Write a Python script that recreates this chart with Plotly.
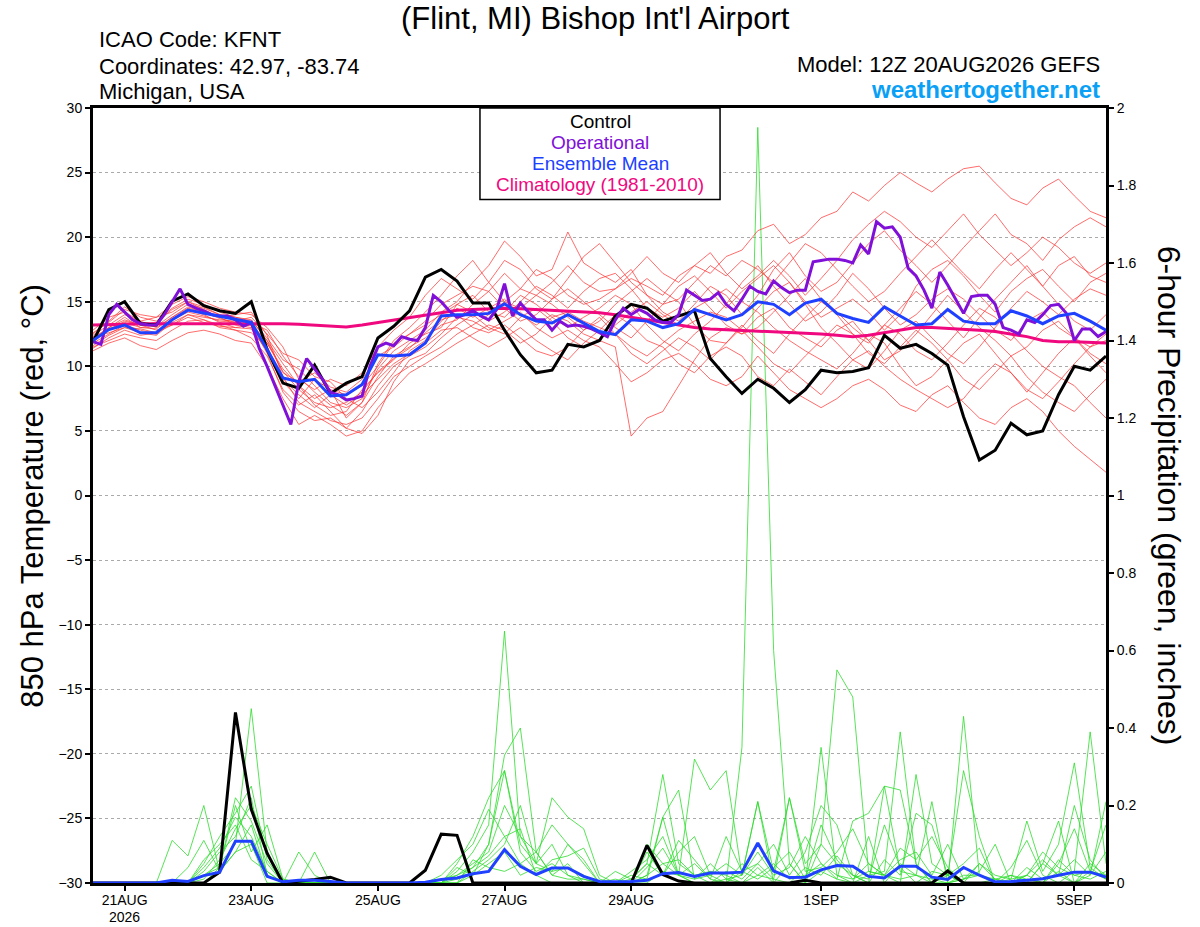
import pandas as pd
import plotly.graph_objects as go

# 6-hourly GEFS steps from 12Z 20AUG2026 out to 384 h
START = pd.Timestamp("2026-08-20 12:00")
times = pd.date_range(START, periods=65, freq="6h")

# 850 hPa temperature (C)
control_t = [11.9, 14.4, 15.0, 13.3, 13.2, 15.05, 15.6, 14.7, 14.3, 14.1, 15.0,
             11.3, 8.7, 8.3, 10.1, 7.9, 8.7, 9.2, 12.2, 13.1, 14.3,
             16.9, 17.5, 16.6, 14.9, 14.9, 12.8, 10.9, 9.5, 9.7, 11.7, 11.5,
             12.0, 13.9, 14.8, 14.5, 13.5, 13.9, 14.3, 10.6, 9.2, 7.9, 9.0,
             8.3, 7.2, 8.2, 9.7, 9.5, 9.6, 9.9, 12.4, 11.4, 11.7, 11.0,
             10.1, 6.1, 2.75, 3.5, 5.6, 4.7, 5.0, 7.8, 10.0, 9.7, 10.8]

mean_t = [12.0, 12.85, 13.2, 12.6, 12.6, 13.6, 14.35, 14.1, 13.9, 13.6, 13.4,
          11.3, 9.1, 8.8, 9.0, 7.7, 7.8, 8.6, 10.9, 10.8, 10.9,
          11.8, 13.9, 14.0, 14.0, 14.1, 14.85, 14.0, 13.5, 13.35, 14.0, 13.35,
          12.7, 12.45, 13.6, 13.5, 13.0, 13.3, 14.4, 14.0, 13.6, 14.0, 15.0,
          14.8, 14.0, 14.9, 15.2, 14.1, 13.7, 13.4, 14.6, 13.9, 13.2, 13.3,
          14.4, 13.5, 13.3, 13.3, 14.3, 13.9, 13.3, 13.9, 14.1, 13.5, 12.8]

clim_t = [13.2, 13.2, 13.25, 13.3, 13.3, 13.3, 13.35, 13.35, 13.35, 13.3, 13.3,
          13.3, 13.3, 13.25, 13.2, 13.1, 13.05, 13.2, 13.4, 13.6, 13.8,
          14.0, 14.2, 14.35, 14.4, 14.45, 14.5, 14.45, 14.4, 14.35, 14.3, 14.25,
          14.15, 14.0, 13.8, 13.6, 13.35, 13.15, 13.0, 12.9, 12.85, 12.8, 12.75,
          12.7, 12.65, 12.6, 12.5, 12.4, 12.3, 12.4, 12.6, 12.8, 13.0, 13.0,
          12.95, 12.9, 12.8, 12.7, 12.5, 12.3, 12.0, 11.9, 11.9, 11.85, 11.8]

# operational run is 3-hourly
oper_hours = list(range(0, 385, 3))
oper_t = [11.9, 11.7, 14.0, 14.8, 14.2, 13.6, 13.3, 13.2, 13.2, 14.0, 15.0, 16.0,
          14.8, 14.5, 14.3, 14.0, 13.9, 13.9, 13.6, 13.1, 13.4, 11.4, 10.0, 8.5,
          7.0, 5.5, 8.8, 10.6, 9.8, 9.0, 8.0, 7.8, 7.4, 7.5, 7.7, 10.0,
          11.5, 11.8, 11.6, 12.3, 12.1, 12.0, 13.0, 15.5, 15.0, 14.3, 13.8, 14.0,
          14.3, 13.9, 13.6, 14.4, 16.4, 13.9, 14.9, 14.2, 13.6, 13.6, 12.8, 13.5,
          13.1, 13.2, 13.1, 12.9, 12.6, 12.3, 13.6, 14.5, 14.0, 14.4, 14.1, 13.6,
          13.4, 13.4, 14.0, 15.9, 15.5, 15.1, 15.2, 15.7, 14.8, 14.3, 15.2, 16.2,
          15.8, 15.6, 16.6, 16.1, 15.7, 15.9, 15.9, 18.1, 18.2, 18.3, 18.3, 18.2,
          18.0, 19.4, 18.7, 21.2, 20.7, 20.8, 20.0, 17.6, 17.0, 15.9, 14.5, 17.3,
          16.3, 15.2, 14.1, 15.4, 15.5, 15.5, 14.8, 13.0, 12.8, 12.5, 13.6, 13.4,
          14.0, 14.7, 14.8, 14.1, 12.0, 12.9, 12.9, 12.3, 12.7]

members_t = [
    [12.5, 13.5, 14.6, 13.8, 13.5, 14.5, 15.2, 14.8, 14.2, 13.8, 13.6,
     12.0, 9.5, 8.8, 9.5, 8.4, 8.0, 9.0, 10.8, 11.5, 12.5,
     13.5, 14.8, 15.5, 16.2, 15.8, 17.2, 16.0, 15.5, 16.5, 17.8, 16.5,
     15.8, 16.0, 16.8, 16.2, 15.5, 17.0, 17.8, 17.2, 18.5, 19.0, 20.5,
     21.0, 19.5, 20.2, 21.5, 22.0, 23.5, 22.8, 24.0, 25.0, 24.2, 23.5,
     24.5, 25.3, 25.5, 24.2, 23.0, 22.5, 23.8, 24.5, 23.2, 22.0, 21.5],
    [11.8, 12.5, 13.2, 12.8, 12.5, 13.6, 14.2, 13.9, 13.5, 13.4, 13.2,
     11.0, 8.0, 6.5, 5.8, 6.0, 5.2, 6.5, 8.5, 10.0, 10.8,
     11.5, 12.5, 13.8, 13.5, 12.8, 13.5, 14.2, 13.0, 12.2, 12.8, 12.0,
     11.5, 10.2, 8.8, 9.5, 10.5, 11.0, 10.2, 9.0, 8.5, 9.2, 10.8,
     9.5, 8.2, 7.5, 6.8, 7.5, 8.5, 9.0, 8.2, 7.0, 6.5, 7.8,
     8.5, 7.2, 6.0, 5.5, 6.8, 7.5, 6.5, 5.0, 3.8, 2.8, 1.8],
    [12.2, 13.0, 13.8, 13.0, 13.1, 14.0, 14.8, 14.5, 14.0, 13.8, 13.5,
     12.2, 10.5, 9.8, 8.5, 7.2, 6.8, 7.5, 9.8, 11.2, 12.0,
     12.8, 14.2, 15.0, 16.5, 17.8, 19.7, 18.5, 17.0, 17.5, 20.4, 18.0,
     17.2, 16.5, 17.5, 15.5, 14.8, 15.2, 16.5, 17.8, 17.0, 18.2, 17.5,
     16.5, 18.0, 19.5, 18.8, 17.5, 16.2, 15.0, 15.8, 17.2, 18.5, 19.8,
     18.5, 17.2, 16.0, 17.5, 18.8, 17.5, 16.2, 17.8, 18.5, 17.0, 16.5],
    [12.0, 12.8, 13.5, 13.2, 12.8, 13.2, 14.0, 13.8, 13.6, 13.5, 13.8,
     12.5, 11.0, 10.5, 9.2, 8.8, 7.5, 6.8, 8.0, 9.5, 11.2,
     12.0, 13.5, 14.5, 13.8, 14.5, 15.2, 14.0, 13.2, 14.0, 13.5, 12.5,
     12.0, 11.5, 4.6, 6.0, 6.5, 8.5, 10.5, 12.2, 13.0, 12.5, 13.8,
     14.5, 13.0, 12.2, 11.5, 12.8, 13.5, 12.0, 10.5, 11.2, 12.5, 14.0,
     15.5, 14.2, 13.0, 12.0, 10.8, 11.5, 12.8, 13.5, 12.2, 11.0, 10.2],
    [11.5, 12.0, 12.5, 12.2, 12.0, 12.8, 13.5, 13.6, 13.2, 12.8, 12.2,
     10.8, 8.2, 7.0, 7.8, 6.5, 5.2, 4.8, 6.2, 8.8, 10.5,
     11.0, 12.2, 13.2, 14.0, 13.0, 12.5, 13.8, 14.5, 13.5, 12.2, 11.5,
     12.0, 13.2, 14.2, 15.0, 14.0, 13.2, 14.5, 15.2, 16.0, 15.0, 14.2,
     13.0, 12.0, 11.2, 10.5, 9.8, 11.0, 12.5, 11.8, 10.0, 8.5, 9.2,
     10.5, 11.8, 12.5, 11.0, 9.5, 8.2, 7.5, 8.8, 10.2, 11.5, 12.0],
    [12.4, 13.2, 14.0, 13.5, 13.8, 14.8, 15.4, 15.0, 14.5, 14.2, 14.0,
     13.0, 11.5, 9.0, 8.2, 9.0, 8.5, 9.5, 11.5, 12.8, 13.8,
     15.5, 16.8, 16.0, 15.2, 16.5, 18.2, 17.5, 16.0, 15.2, 16.8, 18.5,
     19.5, 18.0, 16.5, 15.5, 14.2, 13.5, 14.8, 16.2, 15.5, 14.0, 15.5,
     17.5, 18.8, 17.0, 15.8, 16.5, 18.0, 19.5, 20.5, 19.0, 17.8, 16.5,
     17.8, 19.2, 20.5, 21.8, 20.2, 19.5, 18.2, 19.8, 20.8, 21.5, 20.8],
    [11.2, 11.8, 12.2, 11.6, 11.3, 12.0, 12.6, 12.8, 12.5, 12.0, 11.8,
     10.0, 7.5, 5.5, 6.2, 5.5, 4.6, 5.0, 6.8, 8.2, 9.5,
     10.2, 11.0, 11.8, 12.5, 13.2, 12.8, 11.8, 12.5, 13.8, 14.2, 13.5,
     13.0, 12.5, 11.5, 10.8, 11.8, 12.8, 13.5, 14.2, 13.8, 12.8, 11.5,
     10.2, 9.5, 10.8, 12.0, 13.2, 12.5, 11.0, 10.2, 11.5, 12.8, 11.8,
     10.5, 9.0, 8.2, 9.5, 10.8, 9.2, 8.0, 7.2, 6.5, 7.8, 9.0],
    [12.8, 13.8, 14.2, 13.5, 13.0, 13.8, 14.5, 14.2, 13.8, 13.2, 13.0,
     11.8, 9.8, 8.5, 7.0, 6.2, 6.5, 8.2, 9.5, 10.5, 11.8,
     12.5, 13.0, 14.8, 15.5, 14.2, 13.8, 15.0, 16.2, 15.5, 14.5, 15.8,
     16.8, 17.2, 16.0, 14.5, 13.8, 14.5, 15.8, 14.5, 13.2, 12.5, 13.0,
     14.2, 15.5, 16.8, 15.2, 14.0, 12.5, 11.8, 13.2, 14.5, 15.8, 14.8,
     13.5, 12.2, 13.8, 15.2, 16.5, 17.8, 16.2, 14.8, 13.5, 12.8, 14.0],
    [11.6, 12.4, 13.0, 12.6, 12.4, 13.4, 14.0, 13.6, 13.0, 12.8, 12.6,
     11.5, 9.0, 7.8, 6.8, 7.8, 7.0, 7.8, 9.0, 10.2, 11.0,
     11.8, 12.8, 13.0, 12.2, 11.5, 12.2, 13.0, 12.0, 11.2, 10.5, 11.8,
     12.8, 14.0, 13.2, 12.0, 11.5, 10.2, 9.5, 10.8, 11.5, 10.8, 9.2,
     8.5, 9.8, 8.8, 7.8, 9.2, 10.5, 11.2, 10.0, 9.0, 8.2, 7.5,
     6.8, 7.5, 9.0, 10.2, 9.5, 8.0, 9.5, 11.0, 12.2, 10.8, 9.5],
    [12.6, 13.4, 14.4, 14.0, 13.8, 14.2, 15.0, 14.6, 14.0, 13.6, 13.4,
     12.8, 10.8, 9.2, 8.0, 7.0, 6.2, 7.2, 10.2, 12.0, 13.0,
     14.2, 15.5, 17.0, 18.2, 16.5, 15.0, 16.0, 17.5, 16.8, 15.5, 14.8,
     15.2, 16.0, 17.2, 18.5, 17.2, 16.5, 17.8, 18.8, 17.2, 16.0, 17.0,
     18.2, 17.0, 15.5, 16.8, 18.2, 19.8, 21.0, 22.0, 21.2, 20.0, 19.2,
     20.5, 21.8, 20.2, 19.0, 17.8, 18.8, 20.0, 19.2, 18.0, 17.2, 18.0],
    [11.4, 12.2, 12.8, 12.4, 12.6, 13.6, 14.4, 14.0, 13.4, 13.0, 13.2,
     12.0, 10.2, 8.5, 7.5, 8.2, 7.8, 8.5, 10.0, 11.8, 12.5,
     13.2, 14.0, 14.8, 14.2, 13.5, 14.2, 15.5, 14.8, 13.8, 13.0, 13.8,
     14.5, 15.5, 14.8, 13.2, 12.0, 11.2, 12.5, 13.5, 14.8, 16.5, 17.8,
     16.2, 14.8, 13.5, 14.2, 15.5, 17.2, 16.0, 14.5, 13.2, 14.0, 15.2,
     16.0, 15.2, 14.0, 12.8, 12.0, 13.5, 14.2, 13.0, 12.2, 11.5, 12.5],
    [12.1, 13.0, 13.6, 13.2, 13.4, 14.4, 15.0, 14.4, 13.8, 14.0, 14.2,
     12.4, 9.2, 7.2, 6.5, 5.8, 5.5, 6.0, 7.5, 9.2, 10.0,
     10.8, 11.5, 12.5, 13.2, 14.0, 15.0, 14.5, 15.5, 14.8, 13.8, 12.8,
     13.5, 14.8, 15.8, 16.8, 15.8, 15.0, 13.2, 12.0, 11.8, 13.0, 14.5,
     15.8, 16.5, 14.8, 13.0, 11.8, 10.5, 9.8, 11.2, 12.8, 13.5, 12.2,
     11.0, 10.2, 11.5, 13.0, 14.5, 15.8, 15.0, 14.0, 15.2, 16.0, 15.5],
    [12.3, 12.6, 13.0, 12.9, 12.6, 13.2, 13.8, 13.4, 13.1, 13.0, 12.9,
     11.2, 8.8, 7.5, 9.0, 8.2, 6.0, 7.2, 9.2, 10.8, 11.5,
     12.2, 13.2, 13.6, 14.8, 15.8, 14.5, 13.5, 14.0, 15.2, 16.0, 15.0,
     14.0, 13.0, 12.2, 13.5, 14.8, 16.2, 17.0, 15.8, 14.5, 15.8, 16.8,
     17.8, 16.5, 15.0, 13.8, 14.5, 15.2, 14.2, 12.8, 14.0, 16.2, 17.5,
     18.2, 17.0, 15.5, 14.2, 15.8, 16.8, 17.5, 16.2, 15.0, 16.5, 17.2],
    [11.9, 12.9, 13.4, 13.0, 12.9, 13.8, 14.6, 14.2, 13.7, 13.4, 13.3,
     11.8, 9.6, 8.2, 7.2, 6.8, 7.2, 8.0, 9.6, 10.6, 11.4,
     12.6, 13.6, 14.0, 13.0, 12.6, 13.2, 12.2, 11.2, 10.8, 11.5, 12.8,
     13.8, 12.5, 11.0, 10.2, 11.2, 12.2, 11.5, 10.5, 11.8, 13.2, 12.0,
     11.0, 12.5, 13.8, 15.0, 14.2, 13.0, 12.0, 13.2, 12.5, 11.2, 10.5,
     11.8, 13.2, 14.5, 13.8, 12.5, 11.2, 10.0, 9.2, 8.5, 7.2, 6.0],
]

# 6-hour precipitation (inches)
control_p = [0, 0, 0, 0, 0, 0, 0, 0, 0.028, 0.44, 0.19, 0.077, 0,
             0.004, 0.009, 0.015, 0, 0, 0, 0, 0, 0.033, 0.126, 0.123, 0, 0,
             0, 0, 0, 0, 0, 0, 0, 0, 0, 0.097, 0.022, 0.005, 0,
             0, 0, 0, 0, 0, 0, 0.007, 0, 0, 0, 0, 0, 0,
             0, 0, 0.031, 0, 0, 0, 0, 0, 0, 0, 0, 0, 0]

mean_p = [0, 0, 0, 0, 0, 0.007, 0.004, 0.019, 0.028, 0.108, 0.108, 0.017, 0.003,
          0.007, 0.007, 0.004, 0, 0, 0, 0, 0, 0.002, 0.009, 0.013, 0.024, 0.030,
          0.086, 0.043, 0.022, 0.039, 0.039, 0.017, 0.004, 0.003, 0.004, 0.007, 0.024, 0.027, 0.017,
          0.026, 0.026, 0.028, 0.103, 0.031, 0.014, 0.015, 0.034, 0.045, 0.043, 0.017, 0.013, 0.043,
          0.043, 0.015, 0.009, 0.040, 0.020, 0.003, 0.004, 0.007, 0.011, 0.020, 0.028, 0.028, 0.015]

members_p = [
    [0, 0, 0, 0, 0, 0.11, 0.07, 0.2, 0.03, 0.08, 0.15, 0.02, 0,
     0, 0, 0, 0, 0, 0, 0, 0, 0, 0.02, 0.06, 0.1, 0.19,
     0.12, 0.05, 0.02, 0, 0, 0, 0, 0.03, 0.01, 0.05, 0.28, 0.05, 0.02,
     0, 0.01, 0, 0.04, 0, 0, 0, 0.1, 0.05, 0.02, 0, 0.25, 0.24,
     0.05, 0, 0.02, 0, 0, 0, 0, 0.02, 0.06, 0.02, 0, 0.03, 0.01],
    [0, 0, 0, 0, 0, 0, 0, 0.04, 0.09, 0.17, 0.12, 0.03, 0,
     0, 0, 0, 0, 0, 0, 0, 0, 0, 0, 0.03, 0.08, 0.15,
     0.65, 0.12, 0.05, 0.1, 0.02, 0, 0, 0, 0, 0, 0.03, 0.02, 0,
     0, 0, 0.35, 1.95, 0.6, 0.05, 0, 0.03, 0.01, 0, 0.02, 0.03, 0.39,
     0.05, 0, 0, 0.01, 0.03, 0.1, 0, 0, 0, 0.03, 0, 0.05, 0.02],
    [0, 0, 0, 0, 0, 0, 0, 0.02, 0.05, 0.1, 0.45, 0.08, 0,
     0, 0, 0, 0, 0, 0, 0, 0, 0, 0, 0.01, 0.04, 0.1,
     0.33, 0.4, 0.08, 0.02, 0.05, 0, 0, 0, 0, 0.02, 0.17, 0.24, 0.01,
     0.02, 0.05, 0.02, 0.21, 0.03, 0.22, 0.05, 0.1, 0.55, 0.48, 0.03, 0.02, 0,
     0.28, 0.05, 0.02, 0, 0, 0.01, 0.02, 0, 0.05, 0.02, 0.2, 0.06, 0.01],
    [0, 0, 0, 0, 0, 0, 0, 0.02, 0.04, 0.22, 0.16, 0.05, 0,
     0.08, 0.02, 0, 0, 0, 0, 0, 0, 0, 0, 0.05, 0.12, 0.22,
     0.29, 0.1, 0.05, 0.22, 0.17, 0.14, 0.02, 0, 0, 0.1, 0.05, 0.02, 0.32,
     0.24, 0.29, 0.02, 0.21, 0, 0.05, 0, 0.35, 0.02, 0, 0.12, 0, 0.05,
     0.02, 0.21, 0, 0.43, 0.02, 0, 0, 0, 0.05, 0.16, 0, 0.02, 0.21],
    [0, 0, 0, 0, 0, 0, 0, 0.05, 0.12, 0.18, 0.25, 0.06, 0,
     0, 0.08, 0, 0, 0, 0, 0, 0, 0, 0.01, 0.02, 0.05, 0.08,
     0.2, 0.12, 0.08, 0.15, 0.1, 0.05, 0, 0, 0.02, 0.01, 0.17, 0.02, 0.05,
     0.01, 0.12, 0.03, 0.05, 0.1, 0.02, 0.08, 0.2, 0.15, 0.02, 0, 0.06, 0.02,
     0.18, 0.15, 0.02, 0.29, 0.12, 0, 0.02, 0.01, 0, 0.05, 0.14, 0.03, 0.02],
    [0, 0, 0, 0, 0, 0, 0, 0.01, 0.06, 0.14, 0.2, 0.1, 0.01,
     0, 0, 0, 0, 0, 0, 0, 0, 0, 0, 0, 0.03, 0.06,
     0.1, 0.2, 0.05, 0.03, 0.1, 0.06, 0, 0, 0.01, 0.05, 0.02, 0.08, 0.12,
     0.02, 0, 0.05, 0.02, 0.01, 0.22, 0.03, 0.04, 0.08, 0.14, 0.05, 0.02, 0.09,
     0.06, 0.12, 0.04, 0, 0.05, 0.02, 0.01, 0.16, 0.03, 0.1, 0.31, 0.04, 0.01],
    [0, 0, 0, 0, 0, 0, 0, 0.03, 0.08, 0.12, 0.22, 0.02, 0,
     0, 0, 0, 0, 0, 0, 0, 0, 0, 0, 0.04, 0.02, 0.1,
     0.29, 0.08, 0.03, 0.05, 0.02, 0.01, 0, 0, 0.03, 0.06, 0.12, 0.02, 0.01,
     0.05, 0.01, 0.02, 0.08, 0.02, 0.04, 0.12, 0.05, 0.01, 0.16, 0.18, 0.25, 0.03,
     0.02, 0.01, 0, 0.02, 0.02, 0, 0.04, 0.11, 0.02, 0, 0.03, 0.39, 0.05],
    [0, 0, 0, 0, 0, 0, 0, 0, 0.04, 0.2, 0.08, 0.15, 0.01,
     0, 0, 0, 0, 0, 0, 0, 0, 0, 0, 0.02, 0.04, 0.07,
     0.12, 0.14, 0.02, 0.06, 0.07, 0.09, 0.01, 0, 0, 0.08, 0.02, 0.11, 0.06,
     0.01, 0, 0.03, 0.01, 0.04, 0.08, 0.01, 0.15, 0.06, 0.01, 0.05, 0.02, 0.06,
     0.08, 0.02, 0.1, 0.01, 0.05, 0.01, 0, 0.02, 0.08, 0.04, 0.02, 0.03, 0.15],
    [0, 0, 0, 0, 0, 0, 0, 0.06, 0.1, 0.15, 0.06, 0.03, 0,
     0, 0, 0, 0, 0, 0, 0, 0, 0, 0, 0, 0.02, 0.05,
     0.08, 0.02, 0.04, 0.03, 0.04, 0.02, 0, 0, 0, 0.04, 0.09, 0.02, 0,
     0, 0.03, 0.01, 0.05, 0.01, 0, 0.04, 0.02, 0.07, 0.02, 0.01, 0.15, 0.04,
     0, 0.03, 0.02, 0.05, 0.09, 0, 0.01, 0.02, 0, 0.06, 0.02, 0.01, 0.03],
    [0, 0, 0, 0, 0, 0, 0.04, 0.11, 0.03, 0.08, 0.1, 0, 0,
     0, 0, 0, 0, 0, 0, 0, 0, 0, 0, 0, 0.06, 0.04,
     0.03, 0.05, 0.08, 0.02, 0.01, 0.01, 0, 0.01, 0, 0.02, 0.05, 0.06, 0.02,
     0.03, 0.02, 0, 0.02, 0.05, 0.01, 0.02, 0.05, 0.02, 0.01, 0.03, 0.02, 0.01,
     0.02, 0, 0, 0.01, 0.02, 0.01, 0, 0.04, 0.01, 0.02, 0.06, 0.02, 0.08],
]

tick_dates = ["2026-08-21", "2026-08-23", "2026-08-25", "2026-08-27",
              "2026-08-29", "2026-09-01", "2026-09-03", "2026-09-05"]
tick_text = ["21AUG", "23AUG", "25AUG", "27AUG", "29AUG", "1SEP", "3SEP", "5SEP"]
year_label = "2026"

FONT = "Liberation Sans, Arial, Helvetica, sans-serif"
BLACK = "#000000"
PURPLE = "#8010d8"
BLUE = "#2040ff"
PINK = "#f0087f"
RED_MEM = "rgba(255,50,50,0.8)"
GREEN_MEM = "rgb(45,220,45)"

fig = go.Figure()

# precipitation lives on the primary (right) axis so temperature draws on top
for mem in members_p:
    fig.add_trace(go.Scatter(x=times, y=mem, mode="lines", yaxis="y",
                             line=dict(color=GREEN_MEM, width=0.8),
                             showlegend=False, hoverinfo="skip"))
fig.add_trace(go.Scatter(x=times, y=control_p, mode="lines", yaxis="y",
                         line=dict(color=BLACK, width=3), showlegend=False))
fig.add_trace(go.Scatter(x=times, y=mean_p, mode="lines", yaxis="y",
                         line=dict(color=BLUE, width=3), showlegend=False))

# temperature
for mem in members_t:
    fig.add_trace(go.Scatter(x=times, y=mem, mode="lines", yaxis="y2",
                             line=dict(color=RED_MEM, width=0.9),
                             showlegend=False, hoverinfo="skip"))
fig.add_trace(go.Scatter(x=times, y=clim_t, mode="lines", yaxis="y2",
                         line=dict(color=PINK, width=3), showlegend=False))
fig.add_trace(go.Scatter(x=times, y=control_t, mode="lines", yaxis="y2",
                         line=dict(color=BLACK, width=3), showlegend=False))
fig.add_trace(go.Scatter(x=START + pd.to_timedelta(oper_hours, unit="h"), y=oper_t,
                         mode="lines", yaxis="y2",
                         line=dict(color=PURPLE, width=3), showlegend=False))
fig.add_trace(go.Scatter(x=times, y=mean_t, mode="lines", yaxis="y2",
                         line=dict(color=BLUE, width=3), showlegend=False))

fig.update_layout(
    width=1200,
    height=927,
    margin=dict(l=93, r=94, t=108, b=44, autoexpand=False),
    paper_bgcolor="white",
    plot_bgcolor="white",
    font=dict(family=FONT, color="black", size=14),
    showlegend=False,
    xaxis=dict(
        range=[times[0], times[-1]],
        tickvals=pd.to_datetime(tick_dates),
        ticktext=tick_text,
        ticks="outside", ticklen=5, tickwidth=1.5, tickcolor="black",
        ticklabelstandoff=-3,
        showline=True, linewidth=3, linecolor="black", mirror=True,
        showgrid=False, zeroline=False, automargin=False,
        tickfont=dict(size=14),
    ),
    yaxis=dict(
        range=[0, 2], dtick=0.2, side="right",
        ticks="outside", ticklen=5, tickwidth=1.5, tickcolor="black",
        showline=True, linewidth=3, linecolor="black",
        showgrid=False, zeroline=False, automargin=False,
        tickfont=dict(size=14),
    ),
    yaxis2=dict(
        range=[-30, 30], dtick=5, side="left", overlaying="y",
        ticks="outside", ticklen=5, tickwidth=1.5, tickcolor="black",
        showline=True, linewidth=3, linecolor="black",
        showgrid=True, gridcolor="#aaaaaa", griddash="dot", gridwidth=1,
        zeroline=False, automargin=False,
        tickfont=dict(size=14),
    ),
)

# year under the first date label
fig.add_annotation(text=year_label, xref="x", yref="paper", x=tick_dates[0],
                   y=-0.0435, xanchor="center", yanchor="middle",
                   showarrow=False, font=dict(size=14))

# legend box
fig.add_shape(type="rect", xref="paper", yref="paper",
              x0=0.382, x1=0.619, y0=0.882, y1=1.0,
              fillcolor="white", line=dict(color="black", width=1.5),
              layer="above")

legend_items = [("Control", BLACK, 0.983), ("Operational", PURPLE, 0.956),
                ("Ensemble Mean", BLUE, 0.929),
                ("Climatology (1981-2010)", PINK, 0.901)]
for label, col, yy in legend_items:
    fig.add_annotation(text=label, xref="paper", yref="paper", x=0.5005, y=yy,
                       xanchor="center", yanchor="middle", showarrow=False,
                       font=dict(size=19, color=col))

# header texts
fig.add_annotation(text="(Flint, MI) Bishop Int'l Airport", xref="paper", yref="paper",
                   x=0.4956, y=1.116, xanchor="center", yanchor="middle",
                   showarrow=False, font=dict(size=31))
for txt, yy in [("ICAO Code: KFNT", 1.088), ("Coordinates: 42.97, -83.74", 1.054),
                ("Michigan, USA", 1.021)]:
    fig.add_annotation(text=txt, xref="paper", yref="paper", x=0.004, y=yy,
                       xanchor="left", yanchor="middle", showarrow=False,
                       font=dict(size=22))
fig.add_annotation(text="Model: 12Z 20AUG2026 GEFS", xref="paper", yref="paper",
                   x=0.996, y=1.056, xanchor="right", yanchor="middle",
                   showarrow=False, font=dict(size=22))
fig.add_annotation(text="<b>weathertogether.net</b>", xref="paper", yref="paper",
                   x=0.996, y=1.024, xanchor="right", yanchor="middle",
                   showarrow=False, font=dict(size=24, color="#0aa0f5"))

# axis titles
fig.add_annotation(text="850 hPa Temperature (red, °C)", xref="paper", yref="paper",
                   x=-0.060, y=0.5, xanchor="center", yanchor="middle",
                   textangle=-90, showarrow=False, font=dict(size=31))
fig.add_annotation(text="6-hour Precipitation (green, inches)", xref="paper",
                   yref="paper", x=1.063, y=0.5, xanchor="center",
                   yanchor="middle", textangle=90, showarrow=False,
                   font=dict(size=32))

# drop the default page margin so the figure sits at the window origin
fig.write_html("out.html", config={"displayModeBar": False},
               post_script="document.body.style.margin='0';")
